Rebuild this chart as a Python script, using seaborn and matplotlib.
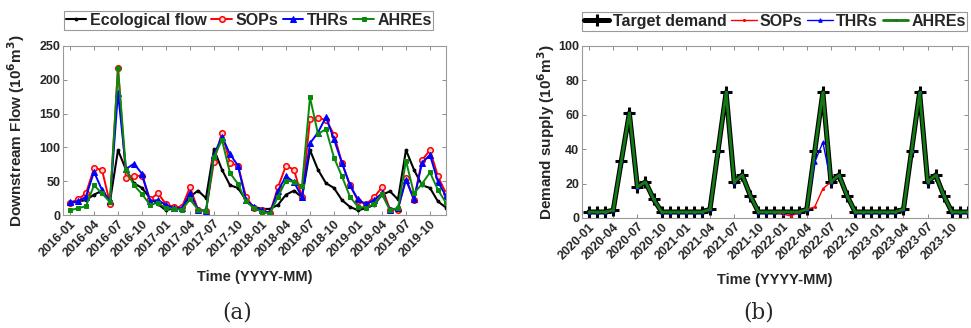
import numpy as np
import pandas as pd
import seaborn as sns
import matplotlib.pyplot as plt
from matplotlib.transforms import ScaledTranslation

# (a) downstream flow, 2016-01 .. 2019-12
months_a = pd.period_range('2016-01', '2019-12', freq='M').strftime('%Y-%m').tolist()
eco_flow = [18, 20, 22, 30, 36, 20, 96, 67, 47, 40, 25, 16,
            7, 10, 12, 27, 36, 25, 97, 67, 44, 40, 22, 12,
            9, 9, 15, 30, 36, 26, 96, 67, 47, 40, 22, 12,
            7, 10, 15, 30, 35, 23, 96, 67, 44, 40, 20, 11]
sops_a = [18, 23, 32, 69, 67, 17, 217, 54, 58, 58, 23, 32,
          16, 12, 12, 41, 8, 6, 79, 122, 77, 73, 27, 10,
          7, 3, 41, 73, 67, 26, 142, 143, 141, 119, 77, 44,
          21, 16, 26, 41, 8, 8, 55, 22, 81, 96, 57, 32]
thrs_a = [19, 20, 27, 64, 37, 20, 181, 68, 76, 61, 21, 22,
          15, 10, 10, 32, 8, 6, 89, 116, 90, 73, 22, 12,
          7, 3, 36, 57, 49, 26, 106, 122, 145, 112, 77, 44,
          23, 16, 22, 32, 8, 10, 52, 23, 77, 89, 49, 28]
ahres_a = [7, 10, 13, 44, 32, 19, 218, 67, 44, 31, 15, 18,
           10, 9, 8, 23, 8, 6, 86, 111, 62, 46, 20, 10,
           5, 2, 27, 51, 49, 43, 174, 120, 127, 85, 57, 27,
           12, 11, 16, 31, 7, 10, 80, 32, 46, 63, 37, 18]

# (b) demand supply, 2020-01 .. 2023-12
months_b = pd.period_range('2020-01', '2023-12', freq='M').strftime('%Y-%m').tolist()
target = [3.5, 3.5, 3.5, 4.5, 33, 61, 18, 21, 11, 3.5, 3.5, 3.5,
          3.5, 3.5, 3.5, 5, 39, 73, 21, 25, 13, 3.5, 3.5, 3.5,
          3.5, 3.5, 3.5, 5, 39, 73, 21, 25, 13, 3.5, 3.5, 3.5,
          3.5, 3.5, 3.5, 5, 39, 73, 21, 25, 13, 3.5, 3.5, 3.5]
sops_b = [3.5, 3.5, 3.5, 4.5, 33, 61, 18, 21, 11, 3.5, 3.5, 3.5,
          3.5, 3.5, 3.5, 5, 39, 73, 21, 25, 13, 3.5, 3.5, 3.5,
          2.3, 1.2, 3, 5, 6.5, 17, 21, 25, 13, 3.5, 3.5, 3.5,
          3.5, 3.5, 3.5, 5, 39, 73, 21, 25, 13, 3.5, 3.5, 3.5]
thrs_b = [3.5, 3.5, 3.5, 4.5, 33, 61, 18, 21, 11, 3.5, 3.5, 3.5,
          3.5, 3.5, 3.5, 5, 39, 73, 21, 25, 13, 3.5, 3.5, 3.5,
          3.5, 3.5, 3.5, 5, 32.5, 44, 21, 25, 13, 3.5, 3.5, 3.5,
          3.5, 3.5, 3.5, 5, 39, 73, 21, 25, 13, 3.5, 3.5, 3.5]
ahres_b = list(target)

sns.set_style('ticks')
plt.rcParams['font.family'] = ['Liberation Sans', 'DejaVu Sans']
plt.rcParams['font.weight'] = 'bold'
plt.rcParams['axes.labelweight'] = 'bold'

GREEN = '#0a8a0a'
DKGREEN = '#137a13'
EDGE = '#9a9a9a'

fig = plt.figure(figsize=(9.71, 3.28), dpi=100)
ax1 = fig.add_axes([0.0649, 0.3445, 0.3944, 0.5153])
ax2 = fig.add_axes([0.5994, 0.3354, 0.3975, 0.5244])

x_a = np.arange(len(months_a))
x_b = np.arange(len(months_b))

# panel (a)
sns.lineplot(x=x_a, y=eco_flow, ax=ax1, color='black', lw=1.5, marker='.', ms=4,
             mec='black', label='Ecological flow')
sns.lineplot(x=x_a, y=sops_a, ax=ax1, color='red', lw=1.4, marker='o', ms=4,
             mfc='#ffd0d0', mec='red', mew=1.1, label='SOPs')
sns.lineplot(x=x_a, y=thrs_a, ax=ax1, color='blue', lw=1.4, marker='^', ms=4,
             mec='blue', label='THRs')
sns.lineplot(x=x_a, y=ahres_a, ax=ax1, color=GREEN, lw=1.4, marker='s', ms=3.3,
             mec=GREEN, label='AHREs')
ax1.set_ylim(0, 250)
ax1.set_yticks(range(0, 251, 50))
ax1.set_ylabel('Downstream Flow (10$^\\mathbf{6}$m$^\\mathbf{3}$)', fontsize=11, labelpad=9)

# panel (b)
sns.lineplot(x=x_b, y=target, ax=ax2, color='black', lw=3.6, marker='+', ms=8,
             mew=2.2, mec='black', label='Target demand')
sns.lineplot(x=x_b, y=sops_b, ax=ax2, color='red', lw=1.0, marker='.', ms=3,
             mec='red', label='SOPs')
sns.lineplot(x=x_b, y=thrs_b, ax=ax2, color='blue', lw=1.0, marker='^', ms=2.5,
             mec='blue', label='THRs')
sns.lineplot(x=x_b, y=ahres_b, ax=ax2, color=DKGREEN, lw=2.0, marker='.', ms=3,
             mec=DKGREEN, label='AHREs')
ax2.set_ylim(0, 100)
ax2.set_yticks(range(0, 101, 20))
ax2.set_ylabel('Demand supply (10$^\\mathbf{6}$m$^\\mathbf{3}$)', fontsize=11, labelpad=1)

legend_pos = {ax1: (0.256, 0.9375), ax2: (0.798, 0.9345)}
handle_len = {ax1: 1.3, ax2: 1.6}
shift = ScaledTranslation(5 / 100, -9 / 100, fig.dpi_scale_trans)
for ax, months in ((ax1, months_a), (ax2, months_b)):
    ax.set_xlim(-0.87, 47)
    ax.set_xticks(range(0, 48, 3))
    ax.set_xticklabels(months[::3], rotation=45, ha='right', va='top',
                       rotation_mode='anchor', fontsize=9, fontweight='bold')
    for lab in ax.get_xticklabels():
        lab.set_transform(lab.get_transform() + shift)
    for lab in ax.get_yticklabels():
        lab.set_fontsize(9)
        lab.set_fontweight('bold')
    ax.set_xlabel('Time (YYYY-MM)', fontsize=10.5, labelpad=8)
    ax.tick_params(direction='in', top=True, right=True, length=3, width=0.6,
                   color='#777777', labelcolor='#262626', pad=2)
    for sp in ax.spines.values():
        sp.set_visible(True)
        sp.set_color(EDGE)
        sp.set_linewidth(0.8)
    leg = ax.legend(loc='center', bbox_to_anchor=legend_pos[ax], bbox_transform=fig.transFigure,
                    ncol=4, fontsize=11.5, frameon=True, fancybox=False, framealpha=1,
                    edgecolor=EDGE, borderpad=0.1, handlelength=handle_len[ax],
                    handletextpad=0.2, columnspacing=0.3, borderaxespad=0)
    leg.get_frame().set_linewidth(0.8)
    for t in leg.get_texts():
        t.set_fontweight('bold')

fig.text(0.244, 0.048, '(a)', ha='center', va='center', fontsize=15.5,
         family=['DejaVu Serif'], fontweight='normal')
fig.text(0.781, 0.048, '(b)', ha='center', va='center', fontsize=15.5,
         family=['DejaVu Serif'], fontweight='normal')

fig.savefig('out.png', dpi=100, facecolor='white')
